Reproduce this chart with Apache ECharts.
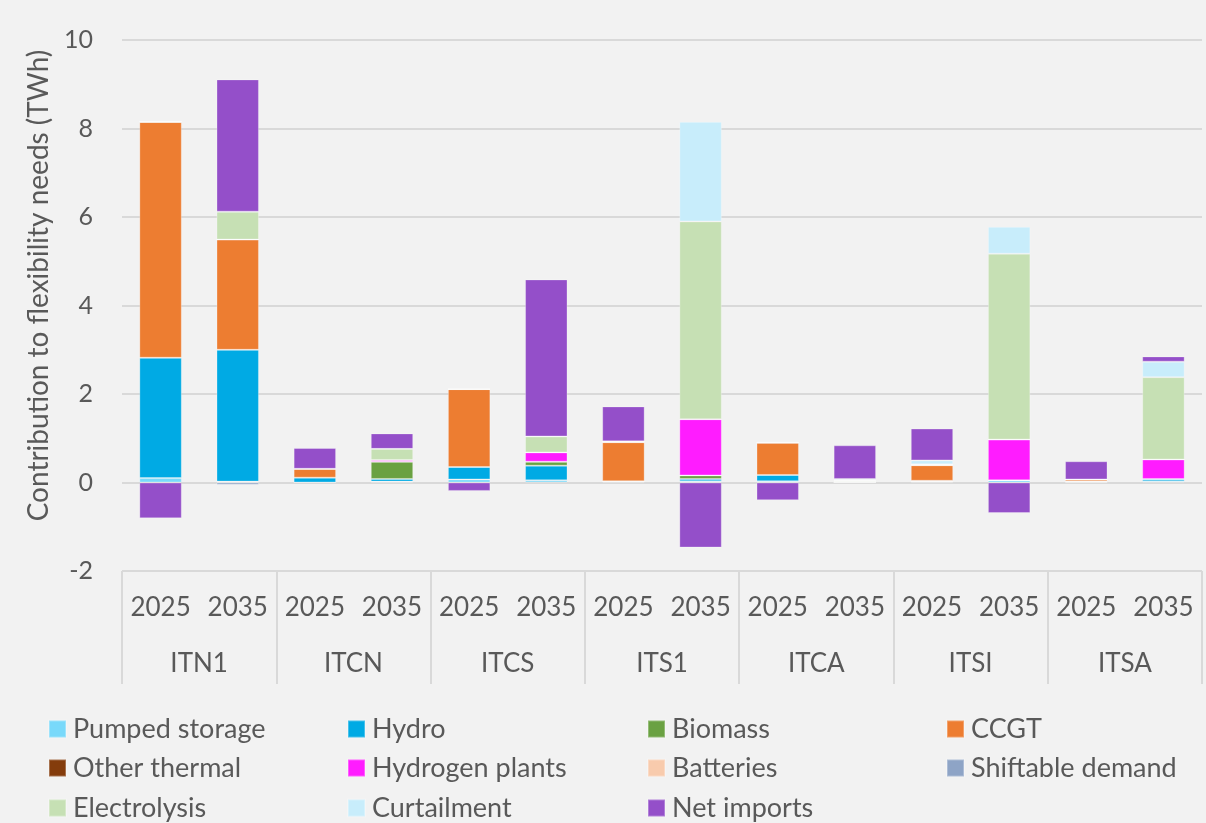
<!DOCTYPE html>
<html>
<head>
<meta charset="utf-8">
<script src="https://cdn.jsdelivr.net/npm/echarts@6/dist/echarts.min.js"></script>
<style>
html,body{margin:0;padding:0;background:#F2F2F2;}
#c{width:1206px;height:823px;}
</style>
</head>
<body>
<div id="c"></div>
<script>
// ---- Data ----
const years = ['2025','2035','2025','2035','2025','2035','2025','2035','2025','2035','2025','2035','2025','2035'];
const regions = ['ITN1','ITCN','ITCS','ITS1','ITCA','ITSI','ITSA'];
const yTicks = [-2, 0, 2, 4, 6, 8, 10];

const seriesNames = ['Pumped storage','Hydro','Biomass','CCGT','Other thermal','Hydrogen plants','Batteries','Shiftable demand','Electrolysis','Curtailment','Net imports'];

const pumpedStorage   = [0.10, 0.02, 0,    0.02, 0.07, 0.05, 0.02, 0.03, 0.03, 0,    0.02, 0.05, 0.01, 0.03];
const hydro           = [2.72, 2.98, 0.11, 0.06, 0.28, 0.33, 0,    0.05, 0.14, 0,    0,    0,    0.01, 0.05];
const biomass         = [0,    0,    0,    0.39, 0,    0.09, 0.01, 0.08, 0,    0.03, 0.02, 0,    0.01, 0];
const ccgt            = [5.33, 2.49, 0.20, 0,    1.76, 0,    0.88, 0,    0.73, 0,    0.35, 0,    0.04, 0];
const otherThermal    = [0,    0,    0,    0,    0,    0,    0,    0,    0,    0,    0,    0,    0,    0];
const hydrogenPlants  = [0,    0,    0,    0.04, 0,    0.21, 0,    1.27, 0,    0,    0,    0.92, 0,    0.44];
const batteries       = [0,    0,    0,    0,    0,    0,    0.02, 0,    0,    0,    0.02, 0,    0,    0];
const shiftableDemand = [0,   -0.05, 0,    0,    0,    0,    0,    0,    0,    0.02, 0,    0,    0,    0];
const electrolysis    = [0,    0.63, 0,    0.25, 0,    0.36, 0,    4.47, 0,    0,    0,    4.20, 0,    1.86];
const curtailment     = [0,    0,    0,    0,    0,    0,    0,    2.25, 0.02, 0.03, 0.09, 0.61, 0,    0.35];
const netImports      = [-0.81, 2.99, 0.47, 0.35, -0.19, 3.55, 0.79, -1.47, -0.40, 0.76, 0.72, -0.69, 0.41, 0.12];

const seriesValues = [pumpedStorage, hydro, biomass, ccgt, otherThermal, hydrogenPlants, batteries, shiftableDemand, electrolysis, curtailment, netImports];

// ---- Styles ----
const colors = ['#79D9FA','#00AAE4','#6AA142','#ED7D31','#843C0C','#FF1CFF','#F8CBAD','#8EA4C6','#C6E0B4','#C8EDFB','#944FC9'];
const FONT = 'Lato, "Open Sans", sans-serif';
const TXT = '#595959';

const chart = echarts.init(document.getElementById('c'), null, {renderer:'canvas'});

const series = seriesNames.map((n, i) => ({
  name: n,
  type: 'bar',
  stack: 'total',
  xAxisIndex: 0,
  barCategoryGap: '45%',
  data: seriesValues[i],
  itemStyle: { color: colors[i], borderColor: 'rgba(255,255,255,0.28)', borderWidth: 1 },
  emphasis: { disabled: true },
  animation: false
}));

const colX = [48, 347, 647, 946];
const rowY = [729, 768, 808];
const legends = seriesNames.map((n, i) => ({
  data: [n],
  left: colX[i % 4],
  top: rowY[Math.floor(i / 4)] - 15,
  itemWidth: 17,
  itemHeight: 17,
  padding: 0,
  icon: 'rect',
  selectedMode: false,
  textStyle: { fontFamily: FONT, fontSize: 27, color: TXT, lineHeight: 30, padding: [0,0,0,2] }
}));

chart.setOption({
  backgroundColor: '#F2F2F2',
  animation: false,
  color: colors,
  legend: legends,
  grid: { left: 122, right: 4, top: 40, bottom: 252 },
  xAxis: [
    {
      type: 'category',
      data: years,
      position: 'bottom',
      axisLine: { show: false },
      axisTick: { show: false },
      axisLabel: { interval: 0, margin: 24, fontFamily: FONT, fontSize: 26, color: TXT }
    },
    {
      type: 'category',
      data: regions,
      position: 'bottom',
      axisLine: { show: false },
      axisTick: { show: true, interval: 0, length: 113, lineStyle: { color: '#D9D9D9', width: 2 } },
      axisLabel: { interval: 0, margin: 80, fontFamily: FONT, fontSize: 26, color: TXT }
    }
  ],
  yAxis: {
    type: 'value',
    min: yTicks[0],
    max: yTicks[yTicks.length - 1],
    interval: 2,
    name: 'Contribution to flexibility needs (TWh)',
    nameLocation: 'middle',
    nameGap: 69,
    nameRotate: 90,
    nameTextStyle: { fontFamily: FONT, fontSize: 28, color: TXT, padding: [0, 0, 0, 40] },
    axisLine: { show: false },
    axisTick: { show: false },
    axisLabel: { margin: 29, fontFamily: FONT, fontSize: 25, color: TXT },
    splitLine: { lineStyle: { color: '#D9D9D9', width: 2 } }
  },
  series: series
});
</script>
</body>
</html>
